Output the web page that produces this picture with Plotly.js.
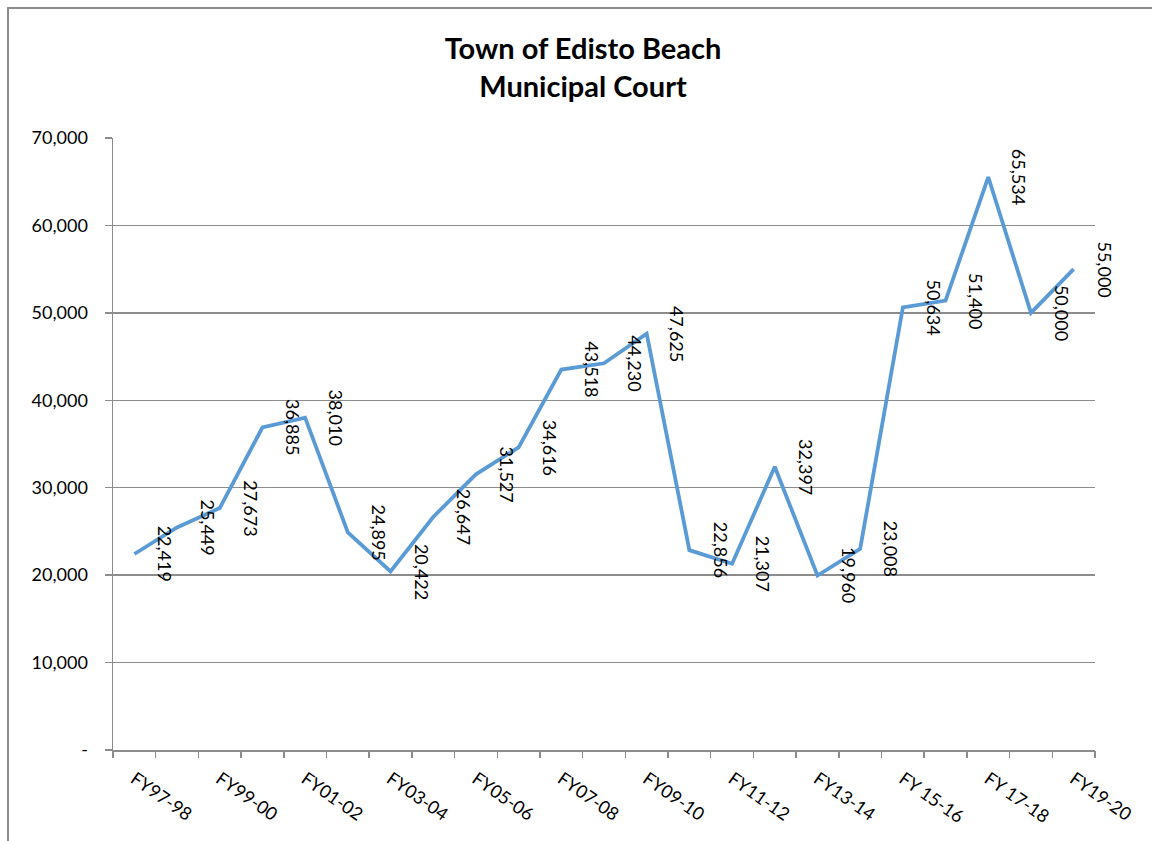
<!DOCTYPE html>
<html>
<head>
<meta charset="utf-8">
<script src="https://cdn.plot.ly/plotly-3.0.1.min.js"></script>
<style>
  html, body { margin: 0; padding: 0; background: #fff; }
  #chart { width: 1152px; height: 841px; position: absolute; left: 0; top: 0; }
  #frame { position: absolute; left: 7px; top: 7px; width: 1200px; height: 900px;
           border-left: 2px solid #8c8c8c; border-top: 2px solid #8c8c8c; pointer-events: none; box-sizing: border-box; }
</style>
</head>
<body>
<div id="chart"></div>
<div id="frame"></div>
<script>
const categories = ["FY97-98","FY98-99","FY99-00","FY00-01","FY01-02","FY02-03","FY03-04","FY04-05",
  "FY05-06","FY06-07","FY07-08","FY08-09","FY09-10","FY10-11","FY11-12","FY12-13","FY13-14",
  "FY14-15","FY 15-16","FY 16-17","FY 17-18","FY 18-19","FY19-20"];
const values = [22419,25449,27673,36885,38010,24895,20422,26647,31527,34616,43518,44230,47625,
  22856,21307,32397,19960,23008,50634,51400,65534,50000,55000];
const yTickVals = [0,10000,20000,30000,40000,50000,60000,70000];
const yTickText = ["-","10,000","20,000","30,000","40,000","50,000","60,000","70,000"];

const fontFam = "Lato, 'Open Sans', sans-serif";
const xTickText = categories.map((c, i) => (i % 2 === 0 ? c : ""));
const xRange = [-0.5, categories.length - 0.5];
const yRange = [0, 70000];

const trace = {
  type: "scatter", mode: "lines",
  x: categories, y: values,
  line: { color: "#5b9bd5", width: 3.8 },
  hoverinfo: "x+y"
};
// invisible companion trace so the tick-mark axes (x2, y2) are drawn
const tickTrace = {
  type: "scatter", mode: "lines", xaxis: "x2", yaxis: "y2",
  x: categories, y: values, opacity: 0, line: { width: 0 }, hoverinfo: "skip"
};

const annotations = categories.map((c, i) => ({
  x: c, y: values[i], xref: "x", yref: "y",
  text: values[i].toLocaleString("en-US"),
  showarrow: false, textangle: 90, xshift: 31,
  xanchor: "center", yanchor: "middle",
  font: { family: fontFam, size: 18, color: "#000" }
}));

const layout = {
  width: 1152, height: 841,
  paper_bgcolor: "#fff", plot_bgcolor: "#fff",
  margin: { l: 113, r: 57, t: 138, b: 91 },
  showlegend: false,
  title: {
    text: "<b>Town of Edisto Beach</b><br><b>Municipal Court</b>",
    font: { family: fontFam, size: 29, color: "#000" },
    x: 583 / 1152, xref: "container", xanchor: "center",
    y: 1 - 59 / 841, yref: "container", yanchor: "top"
  },
  xaxis: {
    type: "category", categoryorder: "array", categoryarray: categories,
    range: xRange, tickvals: categories, ticktext: xTickText,
    ticks: "outside", ticklen: 10, tickcolor: "rgba(0,0,0,0)",
    showline: true, linecolor: "#8c8c8c", linewidth: 1.5,
    showgrid: false, zeroline: false, tickangle: 35,
    tickfont: { family: fontFam, size: 18, color: "#000" }
  },
  xaxis2: {
    type: "category", categoryorder: "array", categoryarray: categories,
    range: xRange, overlaying: "x", anchor: "y2", side: "bottom",
    tickvals: categories, tickson: "boundaries", showticklabels: false,
    ticks: "outside", ticklen: 7, tickcolor: "#8c8c8c", tickwidth: 1.5,
    showline: false, showgrid: false, zeroline: false
  },
  yaxis: {
    range: yRange, tickvals: yTickVals, ticktext: yTickText,
    ticks: "outside", ticklen: 20, tickcolor: "rgba(0,0,0,0)",
    showline: true, linecolor: "#8c8c8c", linewidth: 1.5,
    showgrid: true, gridcolor: "#8c8c8c", gridwidth: 1.5, zeroline: false,
    tickfont: { family: fontFam, size: 18, color: "#000" }
  },
  yaxis2: {
    range: yRange, tickvals: yTickVals, overlaying: "y", anchor: "x2", side: "left",
    showticklabels: false, ticks: "outside", ticklen: 7, tickcolor: "#8c8c8c", tickwidth: 1.5,
    showline: false, showgrid: false, zeroline: false
  },
  annotations: annotations
};

Plotly.newPlot("chart", [trace, tickTrace], layout, { staticPlot: true });
</script>
</body>
</html>
